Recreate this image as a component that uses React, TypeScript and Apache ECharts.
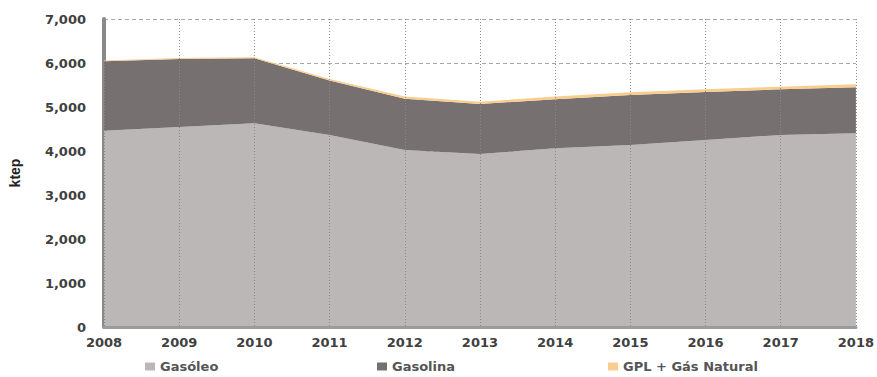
import React, { useEffect, useRef } from "react";
import * as echarts from "echarts";

// Years shown on the category axis
const years = ["2008", "2009", "2010", "2011", "2012", "2013", "2014", "2015", "2016", "2017", "2018"];

// Final energy consumption in road transport, by fuel (ktep)
const gasoleo = [4460, 4545, 4630, 4364, 4023, 3932, 4061, 4136, 4250, 4364, 4402];
const gasolina = [1578, 1545, 1476, 1240, 1165, 1136, 1115, 1137, 1091, 1038, 1045];
const gplGasNatural = [20, 25, 25, 30, 50, 50, 60, 60, 60, 60, 68];

const seriesNames = ["Gasóleo", "Gasolina", "GPL + Gás Natural"];
const seriesColors = ["#bbb7b7", "#777070", "#f8cd8e"];

const labelFont = "'DejaVu Sans', Verdana, sans-serif";

export default function App() {
  const ref = useRef<HTMLDivElement>(null);

  useEffect(() => {
    if (!ref.current) return;
    const chart = echarts.init(ref.current, null, { renderer: "svg" });

    const values = [gasoleo, gasolina, gplGasNatural];
    const legendLeft = [145, 377, 608];

    chart.setOption({
      animation: false,
      backgroundColor: "#ffffff",
      grid: { left: 102, right: 20, top: 19, bottom: 50 },
      legend: seriesNames.map((name, i) => ({
        data: [name],
        left: legendLeft[i],
        top: 360,
        padding: 0,
        icon: "rect",
        itemWidth: 10,
        itemHeight: 8,
        itemGap: 0,
        selectedMode: false,
        textStyle: {
          fontFamily: labelFont,
          fontSize: 13,
          fontWeight: "bold",
          color: "#555555",
        },
      })),
      xAxis: {
        type: "category",
        data: years,
        boundaryGap: false,
        axisLine: { show: true, lineStyle: { color: "#9a9a9a", width: 3 } },
        axisTick: { show: false },
        axisLabel: {
          margin: 9,
          fontFamily: labelFont,
          fontSize: 13,
          fontWeight: "bold",
          color: "#404040",
        },
        splitLine: {
          show: true,
          interval: 0,
          lineStyle: { color: "#8a8a8a", type: [1, 2], width: 1 },
        },
        z: 5,
      },
      yAxis: {
        type: "value",
        min: 0,
        max: 7000,
        interval: 1000,
        name: "ktep",
        nameLocation: "middle",
        nameRotate: 90,
        nameGap: 82,
        nameTextStyle: {
          fontFamily: "'Liberation Sans Narrow', 'Liberation Sans', Arial, sans-serif",
          fontSize: 14,
          fontWeight: "bold",
          color: "#222222",
        },
        axisLine: { show: true, lineStyle: { color: "#8a8a8a", width: 4 } },
        axisTick: { show: false },
        axisLabel: {
          margin: 18,
          fontFamily: labelFont,
          fontSize: 13,
          fontWeight: "bold",
          color: "#404040",
          formatter: (v: number) => v.toLocaleString("en-US"),
        },
        splitLine: {
          show: true,
          lineStyle: { color: "#a8a8a8", type: [4, 3], width: 1 },
        },
      },
      series: values.map((data, i) => ({
        name: seriesNames[i],
        type: "line",
        stack: "total",
        data,
        symbol: "none",
        itemStyle: { color: seriesColors[i] },
        lineStyle: { width: 0 },
        areaStyle: { color: seriesColors[i], opacity: 1 },
        z: 2,
      })),
    });

    return () => chart.dispose();
  }, []);

  return (
    <div
      ref={ref}
      style={{ position: "absolute", left: 0, top: 0, width: 877, height: 377 }}
    />
  );
}
